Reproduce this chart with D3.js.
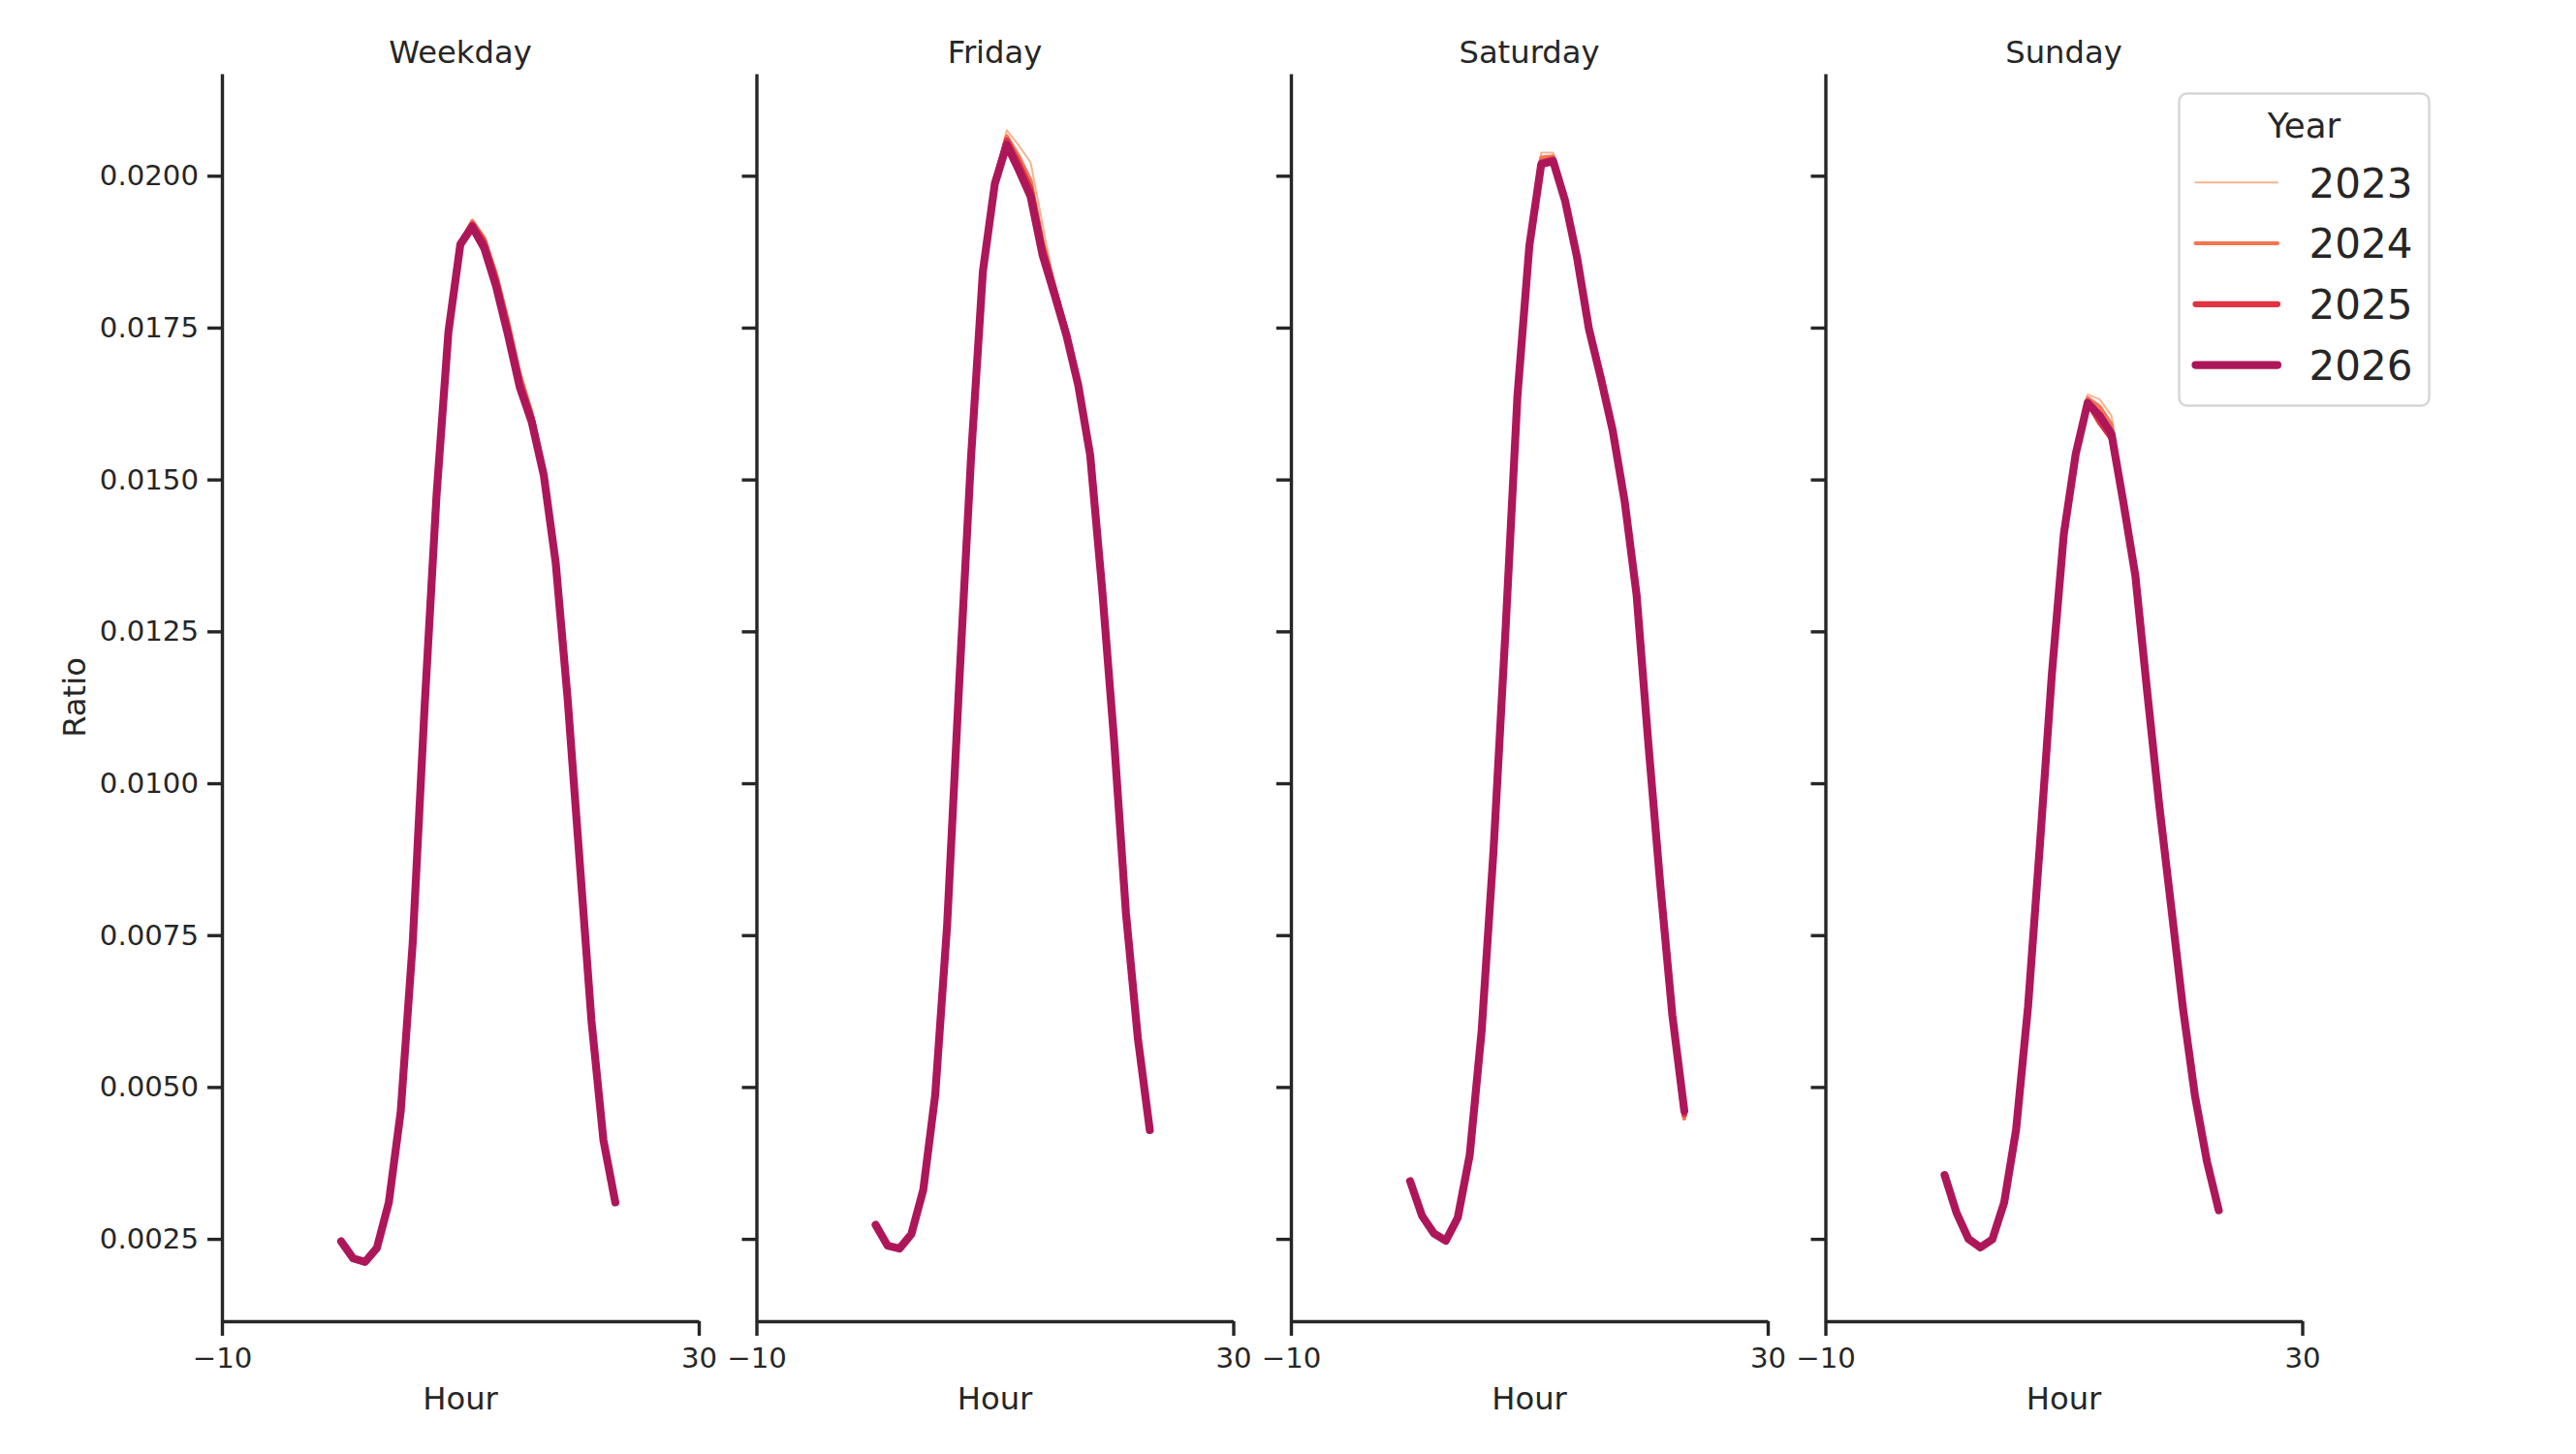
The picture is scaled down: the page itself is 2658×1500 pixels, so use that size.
<!DOCTYPE html>
<html>
<head>
<meta charset="utf-8">
<script src="https://cdn.jsdelivr.net/npm/d3@7"></script>
<style>
	body { margin: 0; background: #fff; }
	text { font-family: "DejaVu Sans", sans-serif; fill: #262626; }
</style>
</head>
<body>
<svg id="chart" width="2658" height="1500"></svg>
<script>
const panels = ["Weekday", "Friday", "Saturday", "Sunday"];
const years = ["2023", "2024", "2025", "2026"];
const hours = [0, 1, 2, 3, 4, 5, 6, 7, 8, 9, 10, 11, 12, 13, 14, 15, 16, 17, 18, 19, 20, 21, 22, 23];
const xTicks = [-10, 30];
const yTicks = [0.0025, 0.0050, 0.0075, 0.0100, 0.0125, 0.0150, 0.0175, 0.0200];

// ratio per hour
const weekday2023 = [0.00247, 0.00219, 0.00213, 0.00236, 0.00310, 0.00461, 0.00737, 0.01126, 0.01475, 0.01746, 0.01892, 0.01928, 0.01900, 0.01842, 0.01765, 0.01680, 0.01612, 0.01515, 0.01366, 0.01140, 0.00875, 0.00610, 0.00413, 0.00310];
const weekday2024 = [0.00246, 0.00218, 0.00213, 0.00235, 0.00310, 0.00460, 0.00736, 0.01125, 0.01474, 0.01745, 0.01890, 0.01925, 0.01897, 0.01838, 0.01760, 0.01672, 0.01608, 0.01512, 0.01365, 0.01140, 0.00874, 0.00609, 0.00413, 0.00310];
const weekday2025 = [0.00246, 0.00218, 0.00212, 0.00235, 0.00310, 0.00460, 0.00736, 0.01125, 0.01473, 0.01744, 0.01889, 0.01920, 0.01890, 0.01828, 0.01748, 0.01660, 0.01600, 0.01509, 0.01364, 0.01139, 0.00874, 0.00609, 0.00413, 0.00310];
const weekday2026 = [0.00246, 0.00218, 0.00212, 0.00235, 0.00310, 0.00460, 0.00736, 0.01125, 0.01473, 0.01743, 0.01887, 0.01916, 0.01881, 0.01818, 0.01738, 0.01651, 0.01594, 0.01507, 0.01363, 0.01139, 0.00874, 0.00609, 0.00413, 0.00310];

const friday2023 = [0.00274, 0.00240, 0.00235, 0.00259, 0.00332, 0.00488, 0.00768, 0.01162, 0.01538, 0.01848, 0.01995, 0.02075, 0.02050, 0.02022, 0.01920, 0.01820, 0.01745, 0.01660, 0.01542, 0.01321, 0.01072, 0.00786, 0.00580, 0.00429];
const friday2024 = [0.00273, 0.00239, 0.00234, 0.00258, 0.00331, 0.00487, 0.00767, 0.01161, 0.01536, 0.01846, 0.01992, 0.02065, 0.02032, 0.01992, 0.01892, 0.01818, 0.01746, 0.01658, 0.01541, 0.01320, 0.01072, 0.00786, 0.00580, 0.00429];
const friday2025 = [0.00273, 0.00239, 0.00234, 0.00258, 0.00331, 0.00487, 0.00767, 0.01160, 0.01535, 0.01844, 0.01990, 0.02058, 0.02020, 0.01978, 0.01882, 0.01812, 0.01742, 0.01656, 0.01540, 0.01320, 0.01072, 0.00786, 0.00580, 0.00429];
const friday2026 = [0.00273, 0.00239, 0.00234, 0.00258, 0.00331, 0.00487, 0.00767, 0.01160, 0.01535, 0.01843, 0.01987, 0.02051, 0.02010, 0.01966, 0.01870, 0.01805, 0.01738, 0.01655, 0.01540, 0.01320, 0.01072, 0.00786, 0.00580, 0.00429];

const saturday2023 = [0.00345, 0.00288, 0.00259, 0.00247, 0.00285, 0.00388, 0.00592, 0.00890, 0.01250, 0.01638, 0.01890, 0.02038, 0.02038, 0.01965, 0.01852, 0.01736, 0.01662, 0.01578, 0.01462, 0.01308, 0.01061, 0.00828, 0.00614, 0.00450];
const saturday2024 = [0.00345, 0.00288, 0.00259, 0.00247, 0.00285, 0.00388, 0.00592, 0.00890, 0.01250, 0.01637, 0.01888, 0.02030, 0.02032, 0.01962, 0.01855, 0.01738, 0.01664, 0.01579, 0.01463, 0.01309, 0.01061, 0.00829, 0.00615, 0.00448];
const saturday2025 = [0.00345, 0.00288, 0.00259, 0.00247, 0.00285, 0.00388, 0.00592, 0.00890, 0.01250, 0.01636, 0.01885, 0.02022, 0.02027, 0.01960, 0.01862, 0.01745, 0.01666, 0.01580, 0.01464, 0.01310, 0.01062, 0.00830, 0.00617, 0.00455];
const saturday2026 = [0.00345, 0.00288, 0.00259, 0.00247, 0.00285, 0.00388, 0.00592, 0.00890, 0.01250, 0.01636, 0.01884, 0.02019, 0.02024, 0.01959, 0.01866, 0.01748, 0.01667, 0.01580, 0.01464, 0.01310, 0.01062, 0.00830, 0.00618, 0.00461];

const sunday2023 = [0.00355, 0.00293, 0.00251, 0.00238, 0.00251, 0.00311, 0.00431, 0.00633, 0.00901, 0.01182, 0.01414, 0.01550, 0.01640, 0.01632, 0.01605, 0.01470, 0.01344, 0.01151, 0.00965, 0.00798, 0.00629, 0.00486, 0.00378, 0.00297];
const sunday2024 = [0.00355, 0.00293, 0.00250, 0.00237, 0.00250, 0.00310, 0.00430, 0.00632, 0.00900, 0.01181, 0.01412, 0.01546, 0.01634, 0.01620, 0.01590, 0.01466, 0.01343, 0.01150, 0.00965, 0.00798, 0.00629, 0.00486, 0.00378, 0.00297];
const sunday2025 = [0.00355, 0.00293, 0.00250, 0.00236, 0.00249, 0.00310, 0.00430, 0.00632, 0.00900, 0.01180, 0.01410, 0.01542, 0.01628, 0.01595, 0.01568, 0.01462, 0.01342, 0.01150, 0.00965, 0.00798, 0.00629, 0.00486, 0.00378, 0.00297];
const sunday2026 = [0.00355, 0.00293, 0.00250, 0.00236, 0.00249, 0.00310, 0.00430, 0.00632, 0.00900, 0.01180, 0.01410, 0.01542, 0.01626, 0.01605, 0.01575, 0.01462, 0.01342, 0.01150, 0.00965, 0.00798, 0.00629, 0.00486, 0.00378, 0.00297];

const series = {
	Weekday: [weekday2023, weekday2024, weekday2025, weekday2026],
	Friday: [friday2023, friday2024, friday2025, friday2026],
	Saturday: [saturday2023, saturday2024, saturday2025, saturday2026],
	Sunday: [sunday2023, sunday2024, sunday2025, sunday2026]
};

const colors = ["#f6b48f", "#f37651", "#e13342", "#ad1759"];
const widths = [2, 4.2, 6.2, 8.2];
const ink = "#262626";

const svg = d3.select("#chart");

const plotTop = 76, plotBottom = 1363;
const panelLeft = 229, panelWidth = 492, panelStep = 551.5;

const x = d3.scaleLinear().domain([-10, 30]).range([0, panelWidth]);
const y = d3.scaleLinear().domain([0.001145, 0.02168]).range([plotBottom, plotTop]);

const line = d3.line()
	.x((d, i) => x(hours[i]))
	.y(d => y(d));

panels.forEach((name, p) => {
	const g = svg.append("g").attr("transform", `translate(${panelLeft + p * panelStep},0)`);

	// lines, 2023 underneath, 2026 on top
	series[name].forEach((vals, k) => {
		g.append("path")
			.datum(vals)
			.attr("d", line)
			.attr("fill", "none")
			.attr("stroke", colors[k])
			.attr("stroke-width", widths[k])
			.attr("stroke-linejoin", "round")
			.attr("stroke-linecap", "round");
	});

	const yAxis = d3.axisLeft(y)
		.tickValues(yTicks)
		.tickSize(15)
		.tickSizeOuter(0)
		.tickPadding(9)
		.tickFormat(p == 0 ? d3.format(".4f") : "");
	const ya = g.append("g").call(yAxis);

	const xAxis = d3.axisBottom(x)
		.tickValues(xTicks)
		.tickSize(15)
		.tickSizeOuter(0)
		.tickPadding(12);
	const xa = g.append("g").attr("transform", `translate(0,${plotBottom})`).call(xAxis);

	[ya, xa].forEach(a => {
		a.select(".domain").attr("stroke", ink).attr("stroke-width", 3.4);
		a.selectAll(".tick line").attr("stroke", ink).attr("stroke-width", 3.4);
		a.selectAll(".tick text")
			.attr("font-size", 29.2)
			.attr("font-family", "DejaVu Sans")
			.attr("fill", ink);
	});

	g.append("text")
		.attr("x", panelWidth / 2)
		.attr("y", 65)
		.attr("text-anchor", "middle")
		.attr("font-size", 32.2)
		.text(name);

	g.append("text")
		.attr("x", panelWidth / 2)
		.attr("y", 1454)
		.attr("text-anchor", "middle")
		.attr("font-size", 32.2)
		.text("Hour");
});

svg.append("text")
	.attr("transform", `translate(88,${(plotTop + plotBottom) / 2}) rotate(-90)`)
	.attr("text-anchor", "middle")
	.attr("font-size", 32.2)
	.text("Ratio");

// legend
const legend = svg.append("g").attr("transform", "translate(2248.5,96.5)");
legend.append("rect")
	.attr("width", 258)
	.attr("height", 322)
	.attr("rx", 8)
	.attr("fill", "#fff")
	.attr("stroke", "#d6d6d6")
	.attr("stroke-width", 2.5);
legend.append("text")
	.attr("x", 129)
	.attr("y", 45)
	.attr("text-anchor", "middle")
	.attr("font-size", 35.6)
	.text("Year");
years.forEach((yr, k) => {
	const ly = 91.7 + k * 62.8;
	legend.append("line")
		.attr("x1", 17).attr("x2", 101.5)
		.attr("y1", ly).attr("y2", ly)
		.attr("stroke", colors[k])
		.attr("stroke-width", widths[k])
		.attr("stroke-linecap", "round");
	legend.append("text")
		.attr("x", 134)
		.attr("y", ly + 15.3)
		.attr("font-size", 42)
		.text(yr);
});
</script>
</body>
</html>
